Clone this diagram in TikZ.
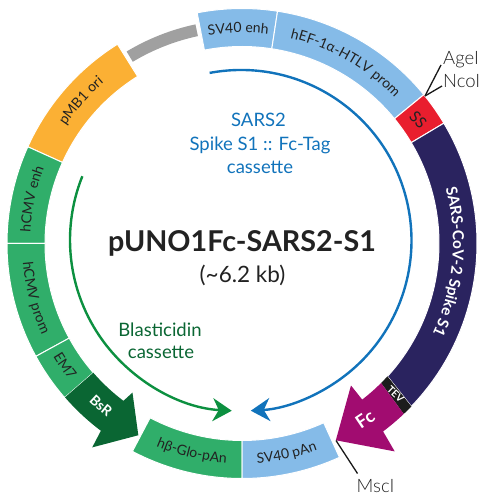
\documentclass[tikz,border=0pt]{standalone}
\usepackage{fontspec}
\setmainfont{Lato}
\newfontfamily\lightfont{Lato Light}
\usetikzlibrary{decorations.text,arrows.meta}
\definecolor{cLblue}{HTML}{85BBE8}
\definecolor{cOrange}{HTML}{FBB034}
\definecolor{cGreen}{HTML}{30AE6A}
\definecolor{cDgreen}{HTML}{0A6633}
\definecolor{cGray}{HTML}{A0A0A0}
\definecolor{cRed}{HTML}{E91E2E}
\definecolor{cNavy}{HTML}{2A235F}
\definecolor{cMag}{HTML}{A10C70}
\definecolor{cTev}{HTML}{1C1C1C}
\definecolor{cBlue}{HTML}{1173BB}
\definecolor{cGarc}{HTML}{0C9040}
\definecolor{cInk}{HTML}{222222}
\definecolor{cSite}{HTML}{222222}
\tikzset{
  seg/.style={fill=#1,draw=white,line width=1pt,line join=miter},
  cassette/.style={line width=2.4pt,-{Stealth[length=19pt,width=23pt,inset=6pt]}},
  leader/.style={draw=black!90,line width=1.3pt},
  site/.style={font=\lightfont\fontsize{18.5}{20}\selectfont,text=cSite,inner sep=0pt},
}
\newcommand{\ringseg}[3]{\path[seg=#3] (#1:197pt) arc[start angle=#1,end angle=#2,radius=197pt] -- (#2:235pt) arc[start angle=#2,end angle=#1,radius=235pt] -- cycle;}
\newcommand{\cwtext}[5]{\path[decorate,decoration={text along path,text align=center,text={|#4|#5}}] (#1+#2:#3pt) arc[start angle=#1+#2,end angle=#1-#2,radius=#3pt];}
\newcommand{\ccwtext}[5]{\path[decorate,decoration={text along path,text align=center,text={|#4|#5}}] (#1-#2:#3pt) arc[start angle=#1-#2,end angle=#1+#2,radius=#3pt];}
\newcommand{\lab}{\fontsize{14}{16}\selectfont\color{cInk}}
\begin{document}
\begin{tikzpicture}[x=1pt,y=1pt]
\useasboundingbox (0,0) rectangle (494,500);
\begin{scope}[shift={(242,256.5)}]
  \fill[cGray] (121:212pt) arc[start angle=121,end angle=102,radius=212pt] -- (102:224pt) arc[start angle=102,end angle=121,radius=224pt] -- cycle;
  \ringseg{122}{155.7}{cOrange}
  \ringseg{155.7}{180}{cGreen}
  \ringseg{180}{208.7}{cGreen}
  \ringseg{208.7}{221}{cGreen}
  \ringseg{81.3}{101}{cLblue}
  \ringseg{39.3}{81.3}{cLblue}
  \ringseg{30.8}{39.3}{cRed}
  \ringseg{242.2}{270}{cGreen}
  \ringseg{270}{294.5}{cLblue}
  \path[seg=cDgreen,draw=none] (221:197pt) arc[start angle=221,end angle=233,radius=197pt] -- (233.7:185pt) -- (241.6:218pt) -- (233.7:253pt) -- (233:234.5pt) arc[start angle=233,end angle=221,radius=234.5pt] -- cycle;
  \path[seg=cNavy] (317.6:197pt) arc[start angle=317.6,end angle=390.8,radius=197pt] -- (30.8:235pt) arc[start angle=390.8,end angle=316.1,radius=235pt] -- cycle;
  \fill[cTev] (314.9:197pt) arc[start angle=314.9,end angle=317.6,radius=197pt] -- (316.1:235pt) arc[start angle=316.1,end angle=313.5,radius=235pt] -- cycle;
  \fill[cMag] (314.9:197pt) arc[start angle=314.9,end angle=307.6,radius=197pt] -- (307.5:179pt) -- (295.5:218pt) -- (306.3:258pt) -- (306.9:235pt) arc[start angle=306.9,end angle=313.5,radius=235pt] -- cycle;
  \cwtext{91}{11}{211}{\lab}{SV40 enh}
  \cwtext{60.2}{20}{211}{\lab}{hEF-1α-HTLV prom}
  \cwtext{138.5}{15}{212}{\lab}{pMB1 ori}
  \cwtext{168}{11}{212}{\lab}{hCMV enh}
  \ccwtext{194.7}{14}{220}{\lab}{hCMV prom}
  \ccwtext{214.6}{6}{220}{\lab}{EM7}
  \ccwtext{229}{7}{220}{\fontsize{14}{16}\selectfont\bfseries\color{white}}{BsR}
  \ccwtext{256.5}{14}{220}{\lab}{hβ-Glo-pAn}
  \ccwtext{282}{12}{220}{\lab}{SV40 pAn}
  \ccwtext{305}{7}{221}{\fontsize{18}{20}\selectfont\bfseries\color{white}}{Fc}
  \cwtext{355}{35}{211}{\fontsize{15.3}{17}\selectfont\bfseries\color{white}}{SARS-CoV-2 Spike S1}
  \node[rotate=-43,font=\bfseries\fontsize{10}{11}\selectfont,text=white,inner sep=0pt] (tev) at (315.6:215pt) {TEV};
  \node[rotate=-47,font=\fontsize{15.5}{17}\selectfont,text=cInk,inner sep=0pt] (ss) at (35:215pt) {SS};
\end{scope}
\coordinate (blueC) at (241,259.5);
\coordinate (greenC) at (241,260);
\draw[cassette,cBlue,shift={(blueC)}] (100.6:170.5pt) arc[start angle=100.6,end angle=-86.7,radius=170.5pt];
\draw[cassette,cGarc,shift={(greenC)}] (158.1:171pt) arc[start angle=158.1,end angle=266.9,radius=171pt];
\node (title) at (242,248.3) [anchor=base,font=\bfseries\fontsize{28.7}{32}\selectfont,text=cInk,inner sep=0pt] {pUNO1Fc-SARS2-S1};
\node (size) at (242.5,217) [anchor=base,font=\fontsize{22.5}{24}\selectfont,text=cInk,inner sep=0pt] {(\char`\~6.2 kb)};
\node (casa) at (258.5,373) [anchor=base,font=\fontsize{18.5}{24}\selectfont,text=cBlue,inner sep=0pt] {SARS2};
\node (casb) at (260,349.3) [anchor=base,font=\fontsize{18.5}{24}\selectfont,text=cBlue,inner sep=0pt] {Spike S1 :: Fc-Tag};
\node (casc) at (260,326.7) [anchor=base,font=\fontsize{18.5}{24}\selectfont,text=cBlue,inner sep=0pt] {cassette};
\node (blaa) at (160,163) [anchor=base,font=\fontsize{18.5}{22}\selectfont,text=cDgreen,inner sep=0pt] {Blasticidin};
\node (blab) at (161,141) [anchor=base,font=\fontsize{18.5}{22}\selectfont,text=cDgreen,inner sep=0pt] {cassette};
\node[site,anchor=base west] (age) at (443,435) {AgeI};
\node[site,anchor=base west] (nco) at (443,412) {NcoI};
\node[site,anchor=base west] (msc) at (356.5,8) {MscI};
\coordinate (pA) at (425,404);
\coordinate (pB) at (336,59.5);
\draw[leader] (pA) -- (441,435);
\draw[leader] (pA) -- (442,414);
\draw[leader] (pB) -- (357.5,26.5);
\end{tikzpicture}
\end{document}
